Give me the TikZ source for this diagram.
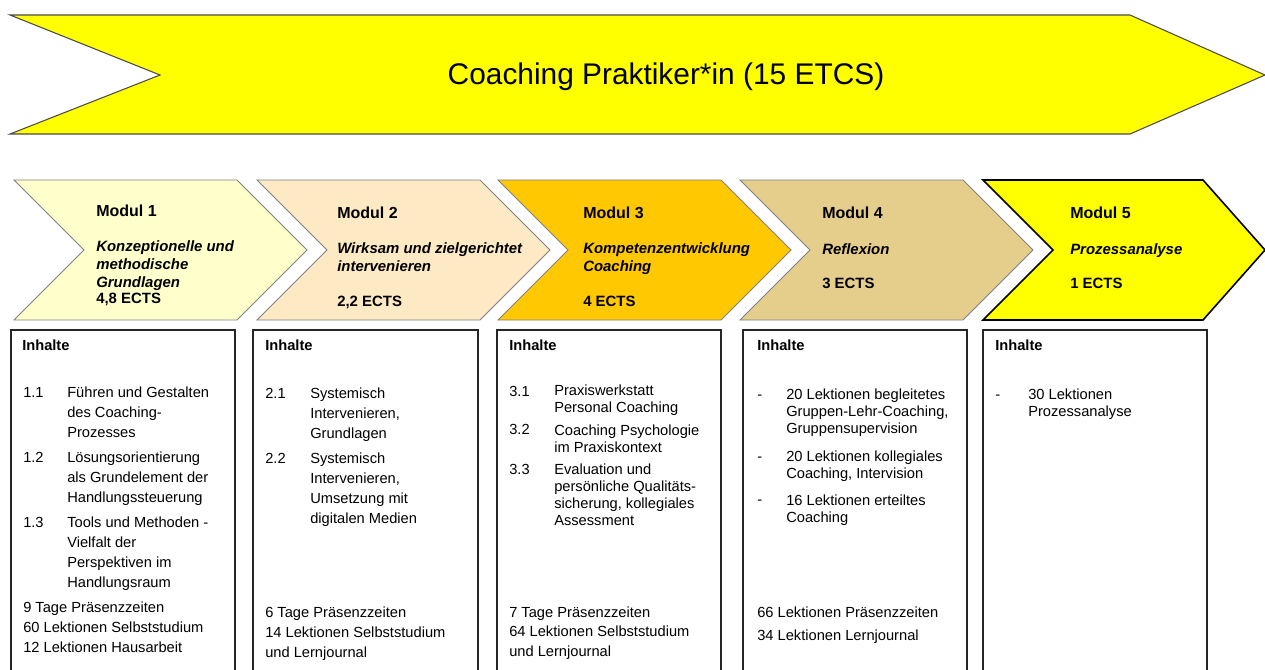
\documentclass[tikz,border=0pt]{standalone}
\usepackage{fontspec}
\setmainfont{Liberation Sans}
\definecolor{modA}{RGB}{255,255,204}
\definecolor{modB}{RGB}{253,233,196}
\definecolor{modC}{RGB}{255,200,0}
\definecolor{modD}{RGB}{229,205,139}
\definecolor{modE}{RGB}{255,255,0}
\begin{document}
\begin{tikzpicture}[x=0.75pt,y=-0.75pt,line join=miter,font=\fontsize{11}{15}\selectfont,
  txt/.style={anchor=base west,inner sep=0pt,align=left},
  hd/.style={txt,font=\fontsize{12}{14}\selectfont\bfseries},
  ti/.style={txt,font=\fontsize{11.2}{12.9}\selectfont\bfseries\itshape},
  ec/.style={txt,font=\fontsize{11.2}{13}\selectfont\bfseries},
  box/.style={draw=black!85,line width=0.8pt}]
\useasboundingbox (0,0) rectangle (1265,669);
\clip (0,0) rectangle (1265,669);
% big arrow
\draw[fill=modE,draw=black!70,line width=0.8pt] (10,15)--(1130,15)--(1265,75)--(1130,134)--(10,134)--(160,75)--cycle;
\node (title) at (666,77) {\fontsize{22.4}{26}\selectfont Coaching Praktiker*in (15 ETCS)};
% modules
\foreach \x/\f/\t/\c/\d/\w in {14/237/307/modA/black!50/0.6,257/480/550/modB/black!50/0.6,
  498/721/791/modC/black!50/0.6,740/963/1033/modD/black!50/0.6,983/1203/1265/modE/black/1.2}
  \draw[fill=\c,draw=\d,line width=\w pt] (\x,180)--(\f,180)--(\t,250)--(\f,320)--(\x,320)--(\x+70,250)--cycle;
\node[hd] (m1) at (96,216) {Modul 1};
\node[ti,font=\fontsize{11.2}{13.5}\selectfont\bfseries\itshape] (m1t) at (96,287) {Konzeptionelle und\\methodische\\Grundlagen};
\node[ec] (m1e) at (96,303) {4,8 ECTS};
\node[hd] (m2) at (337,218) {Modul 2};
\node[ti] (m2t) at (337,271) {Wirksam und zielgerichtet\\intervenieren};
\node[ec] (m2e) at (337,306) {2,2 ECTS};
\node[hd] (m3) at (583,218) {Modul 3};
\node[ti] (m3t) at (583,271) {Kompetenzentwicklung\\Coaching};
\node[ec] (m3e) at (583,306) {4 ECTS};
\node[hd] (m4) at (822,218) {Modul 4};
\node[ti] (m4t) at (822,254) {Reflexion};
\node[ec] (m4e) at (822,288) {3 ECTS};
\node[hd] (m5) at (1070,218) {Modul 5};
\node[ti] (m5t) at (1070,254) {Prozessanalyse};
\node[ec] (m5e) at (1070,288) {1 ECTS};
% content boxes
\foreach \l/\r in {11/235,253/478,497/721,743/967,983/1207}
  \draw[box] (\l,680)--(\l,330)--(\r,330)--(\r,680);
\foreach \x/\n in {22/1,265/2,509/3,757/4,995/5}
  \node[txt,font=\fontsize{11}{15}\selectfont\bfseries] (in\n) at (\x,350) {Inhalte};
% box 1 (multi-line nodes sit on their last line)
\node[txt] (n11) at (23,397) {1.1};
\node[txt] (t11) at (67,437) {Führen und Gestalten\\des Coaching-\\Prozesses};
\node[txt] (n12) at (23,462) {1.2};
\node[txt] (t12) at (67,502) {Lösungsorientierung\\als Grundelement der\\Handlungssteuerung};
\node[txt] (n13) at (23,527) {1.3};
\node[txt] (t13) at (67,587) {Tools und Methoden -\\Vielfalt der\\Perspektiven im\\Handlungsraum};
\node[txt] (f1) at (23,652) {9 Tage Präsenzzeiten\\60 Lektionen Selbststudium\\12 Lektionen Hausarbeit};
% box 2
\node[txt] (n21) at (265,398) {2.1};
\node[txt] (t21) at (310,438) {Systemisch\\Intervenieren,\\Grundlagen};
\node[txt] (n22) at (265,463) {2.2};
\node[txt] (t22) at (310,523) {Systemisch\\Intervenieren,\\Umsetzung mit\\digitalen Medien};
\node[txt] (f2) at (265,657) {6 Tage Präsenzzeiten\\14 Lektionen Selbststudium\\und Lernjournal};
% box 3
\begin{scope}[every node/.append style={font=\fontsize{11}{12.75}\selectfont}]
\node[txt] (n31) at (509,396) {3.1};
\node[txt] (t31) at (554,412) {Praxiswerkstatt\\Personal Coaching};
\node[txt] (n32) at (509,434) {3.2};
\node[txt] (t32) at (554,452) {Coaching Psychologie\\im Praxiskontext};
\node[txt] (n33) at (509,474) {3.3};
\node[txt] (t33) at (554,525) {Evaluation und\\persönliche Qualitäts-\\sicherung, kollegiales\\Assessment};
\end{scope}
\node[txt,font=\fontsize{11}{14.6}\selectfont] (f3) at (509,656) {7 Tage Präsenzzeiten\\64 Lektionen Selbststudium\\und Lernjournal};
% box 4
\begin{scope}[every node/.append style={font=\fontsize{11}{12.75}\selectfont}]
\node[txt] (d41) at (757,399) {-};
\node[txt] (t41) at (786,433) {20 Lektionen begleitetes\\Gruppen-Lehr-Coaching,\\Gruppensupervision};
\node[txt] (d42) at (757,461) {-};
\node[txt] (t42) at (786,478) {20 Lektionen kollegiales\\Coaching, Intervision};
\node[txt] (d43) at (757,504) {-};
\node[txt] (t43) at (786,522) {16 Lektionen erteiltes\\Coaching};
% box 5
\node[txt] (d51) at (995,399) {-};
\node[txt] (t51) at (1028,416) {30 Lektionen\\Prozessanalyse};
\end{scope}
\node[txt,font=\fontsize{11}{17.25}\selectfont] (f4) at (757,640) {66 Lektionen Präsenzzeiten\\34 Lektionen Lernjournal};
\end{tikzpicture}
\end{document}
